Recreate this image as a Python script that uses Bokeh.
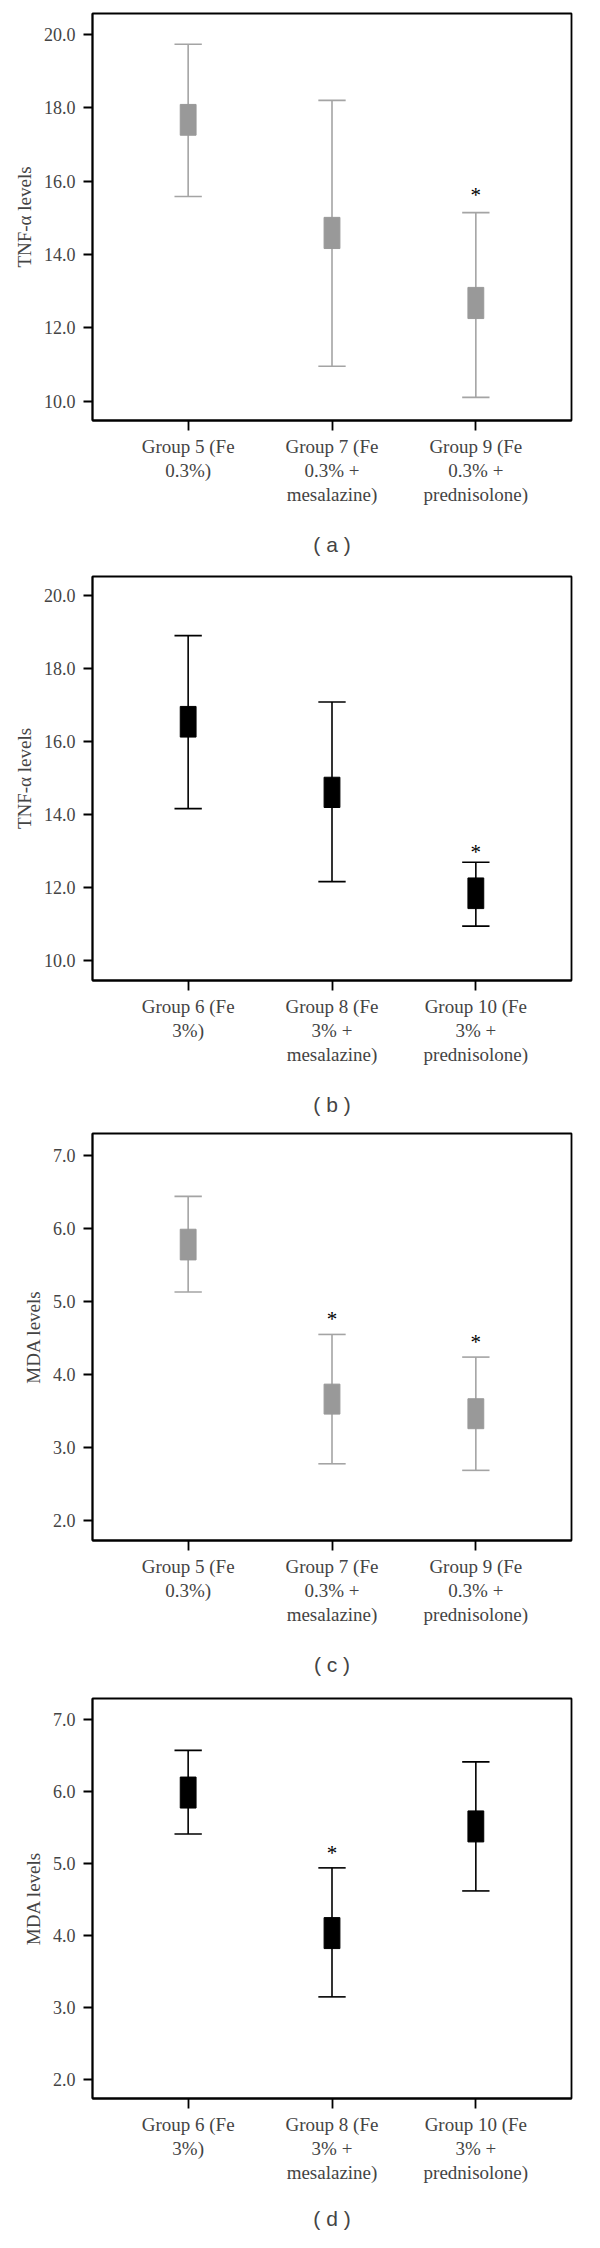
from bokeh.plotting import figure
from bokeh.layouts import column
from bokeh.models import FixedTicker, Range1d
from bokeh.core.properties import value
from bokeh.embed import file_html
from bokeh.resources import INLINE

# ---------------- data ----------------
groups_low = ["Group 5 (Fe\n0.3%)", "Group 7 (Fe\n0.3% +\nmesalazine)", "Group 9 (Fe\n0.3% +\nprednisolone)"]
groups_high = ["Group 6 (Fe\n3%)", "Group 8 (Fe\n3% +\nmesalazine)", "Group 10 (Fe\n3% +\nprednisolone)"]

tnf_ticks = [10.0, 12.0, 14.0, 16.0, 18.0, 20.0]
mda_ticks = [2.0, 3.0, 4.0, 5.0, 6.0, 7.0]

# panel (a): TNF-alpha, Fe 0.3%
a_whisk_hi = [19.73, 18.20, 15.14]
a_box_hi = [18.09, 15.01, 13.10]
a_box_lo = [17.25, 14.16, 12.25]
a_whisk_lo = [15.58, 10.95, 10.10]
a_star_group = [3]
a_star_y = [15.62]

# panel (b): TNF-alpha, Fe 3%
b_whisk_hi = [18.91, 17.09, 12.70]
b_box_hi = [16.97, 15.03, 12.27]
b_box_lo = [16.13, 14.20, 11.43]
b_whisk_lo = [14.17, 12.17, 10.95]
b_star_group = [3]
b_star_y = [12.98]

# panel (c): MDA, Fe 0.3%
c_whisk_hi = [6.44, 4.55, 4.24]
c_box_hi = [5.99, 3.87, 3.67]
c_box_lo = [5.57, 3.46, 3.26]
c_whisk_lo = [5.13, 2.78, 2.69]
c_star_group = [2, 3]
c_star_y = [4.76, 4.44]

# panel (d): MDA, Fe 3%
d_whisk_hi = [6.57, 4.94, 6.41]
d_box_hi = [6.20, 4.25, 5.73]
d_box_lo = [5.77, 3.82, 5.30]
d_whisk_lo = [5.41, 3.15, 4.62]
d_star_group = [2]
d_star_y = [5.15]

SERIF = "Liberation Serif"
SANS = "Liberation Sans"


def panel(groups, w_lo, b_lo, b_hi, w_hi, star_g, star_y, box_col, line_col,
          yticks, yr, ylabel, caption, height, mb_left, mb_top, mb_bottom, cap_standoff):
    xs = list(range(1, len(groups) + 1))
    p = figure(width=584, height=height, output_backend="svg", toolbar_location=None,
               x_range=Range1d(0.335, 3.665), y_range=Range1d(*yr),
               min_border_left=mb_left, min_border_right=13,
               min_border_top=mb_top, min_border_bottom=mb_bottom)
    p.grid.visible = False
    p.outline_line_color = "black"
    p.outline_line_width = 1.8
    p.background_fill_color = "white"
    p.border_fill_color = "white"

    # whiskers
    p.segment(x0=xs, x1=xs, y0=w_lo, y1=w_hi, line_color=line_col, line_width=1.6)
    cap = 0.095
    p.segment(x0=[x - cap for x in xs], x1=[x + cap for x in xs], y0=w_hi, y1=w_hi,
              line_color=line_col, line_width=1.6)
    p.segment(x0=[x - cap for x in xs], x1=[x + cap for x in xs], y0=w_lo, y1=w_lo,
              line_color=line_col, line_width=1.6)
    # boxes
    p.vbar(x=xs, width=0.11, top=b_hi, bottom=b_lo, fill_color=box_col,
           line_color=box_col, line_width=1)
    # significance stars
    p.text(x=star_g, y=star_y, text=["*"] * len(star_g), text_font=value(SERIF),
           text_font_size="21px", text_align="center", text_baseline="middle",
           text_color="black")

    xa = p.xaxis[0]
    xa.ticker = FixedTicker(ticks=xs)
    xa.major_label_overrides = {x: g for x, g in zip(xs, groups)}
    xa.major_label_text_font = SERIF
    xa.major_label_text_font_size = "19px"
    xa.major_label_text_line_height = 1.15
    xa.major_label_standoff = 5
    xa.major_tick_out = 10
    xa.major_tick_in = 0
    xa.minor_tick_line_color = None
    xa.major_tick_line_width = 1.8
    xa.axis_line_width = 1.8
    xa.axis_label = caption
    xa.axis_label_text_font = SANS
    xa.axis_label_text_font_style = "normal"
    xa.axis_label_text_font_size = "21px"
    xa.axis_label_standoff = cap_standoff

    ya = p.yaxis[0]
    ya.ticker = FixedTicker(ticks=yticks)
    ya.major_label_overrides = {t: "%.1f" % t for t in yticks}
    ya.major_label_text_font = SERIF
    ya.major_label_text_font_size = "18px"
    ya.major_label_standoff = 8
    ya.major_tick_out = 9
    ya.major_tick_in = 0
    ya.minor_tick_line_color = None
    ya.major_tick_line_width = 1.8
    ya.axis_line_width = 1.8
    ya.axis_label = ylabel
    ya.axis_label_text_font = SERIF
    ya.axis_label_text_font_style = "normal"
    ya.axis_label_text_font_size = "19px"
    ya.axis_label_standoff = 6
    return p


GRAY_BOX = "#999999"
GRAY_LINE = "#a4a4a4"

pa = panel(groups_low, a_whisk_lo, a_box_lo, a_box_hi, a_whisk_hi, a_star_group, a_star_y,
           GRAY_BOX, GRAY_LINE, tnf_ticks, (9.47, 20.57), "TNF-α levels", "( a )",
           562, 92, 13, 142, 25)
pb = panel(groups_high, b_whisk_lo, b_box_lo, b_box_hi, b_whisk_hi, b_star_group, b_star_y,
           "black", "black", tnf_ticks, (9.46, 20.53), "TNF-α levels", "( b )",
           558, 92, 14, 140, 25)
pc = panel(groups_low, c_whisk_lo, c_box_lo, c_box_hi, c_whisk_hi, c_star_group, c_star_y,
           GRAY_BOX, GRAY_LINE, mda_ticks, (1.73, 7.30), "MDA levels", "( c )",
           565, 83, 13, 145, 25)
pd_ = panel(groups_high, d_whisk_lo, d_box_lo, d_box_hi, d_whisk_hi, d_star_group, d_star_y,
            "black", "black", mda_ticks, (1.74, 7.29), "MDA levels", "( d )",
            547, 83, 13, 129, 21)

layout = column(pa, pb, pc, pd_, spacing=0)
open("out.html", "w").write(file_html(layout, INLINE))
